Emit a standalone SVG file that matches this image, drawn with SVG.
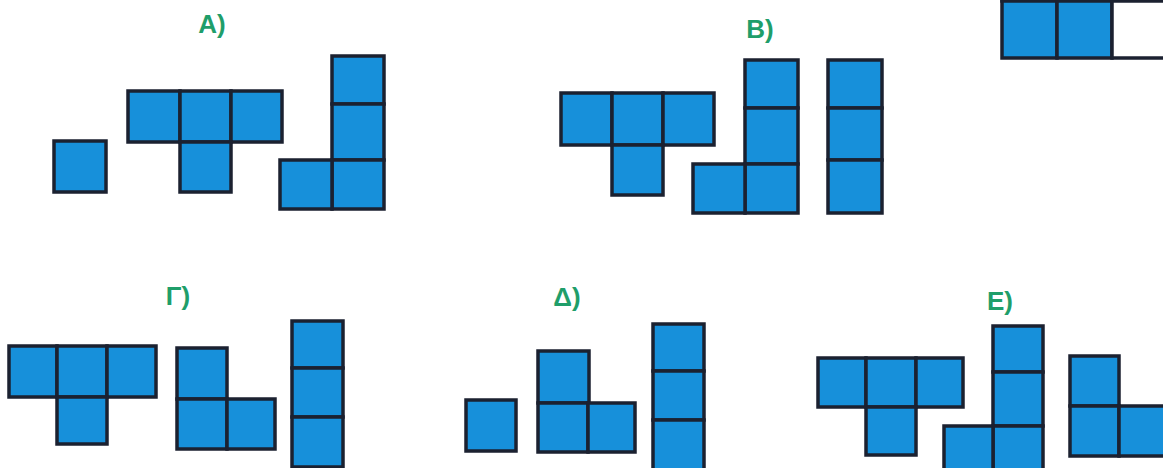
<svg xmlns="http://www.w3.org/2000/svg" width="1163" height="468" viewBox="0 0 1163 468">
<style>
.c{fill:#1790da;stroke:#1b2130;stroke-width:3.5}
.w{fill:#ffffff;stroke:#1b2130;stroke-width:3.5}
.t{font-family:"Liberation Sans",Arial,sans-serif;font-weight:bold;font-size:26px;fill:#1f9e6a;text-anchor:middle}
</style>
<rect width="1163" height="468" fill="#ffffff"/>
<g id="labels">
<text class="t" x="212" y="33">A)</text>
<text class="t" x="760" y="38">B)</text>
<text class="t" x="178" y="305">Γ)</text>
<text class="t" x="567" y="306">Δ)</text>
<text class="t" x="1000" y="310">E)</text>
</g>
<g id="A-single"><rect class="c" x="54" y="141" width="52" height="51"/></g>
<g id="A-T">
<rect class="c" x="128" y="91" width="52" height="51"/>
<rect class="c" x="180" y="91" width="51" height="51"/>
<rect class="c" x="231" y="91" width="51" height="51"/>
<rect class="c" x="180" y="142" width="51" height="50"/>
</g>
<g id="A-L">
<rect class="c" x="332" y="56" width="52" height="48"/>
<rect class="c" x="332" y="104" width="52" height="56"/>
<rect class="c" x="332" y="160" width="52" height="49"/>
<rect class="c" x="280" y="160" width="52" height="49"/>
</g>
<g id="B-T">
<rect class="c" x="561" y="93" width="51" height="52"/>
<rect class="c" x="612" y="93" width="51" height="52"/>
<rect class="c" x="663" y="93" width="51" height="52"/>
<rect class="c" x="612" y="145" width="51" height="50"/>
</g>
<g id="B-L">
<rect class="c" x="745" y="60" width="53" height="48"/>
<rect class="c" x="745" y="108" width="53" height="56"/>
<rect class="c" x="745" y="164" width="53" height="49"/>
<rect class="c" x="693" y="164" width="52" height="49"/>
</g>
<g id="B-I">
<rect class="c" x="828" y="60" width="54" height="48"/>
<rect class="c" x="828" y="108" width="54" height="52"/>
<rect class="c" x="828" y="160" width="54" height="53"/>
</g>
<g id="topright">
<rect class="c" x="1002" y="-55" width="55" height="56"/>
<rect class="w" x="1057" y="-55" width="55" height="56"/>
<rect class="w" x="1112" y="-55" width="55" height="56"/>
<rect class="c" x="1002" y="1" width="55" height="57"/>
<rect class="c" x="1057" y="1" width="55" height="57"/>
<rect class="w" x="1112" y="1" width="55" height="57"/>
</g>
<g id="G-T">
<rect class="c" x="9" y="346" width="48" height="51"/>
<rect class="c" x="57" y="346" width="50" height="51"/>
<rect class="c" x="107" y="346" width="49" height="51"/>
<rect class="c" x="57" y="397" width="50" height="47"/>
</g>
<g id="G-L">
<rect class="c" x="177" y="348" width="50" height="51"/>
<rect class="c" x="177" y="399" width="50" height="50"/>
<rect class="c" x="227" y="399" width="48" height="50"/>
</g>
<g id="G-I">
<rect class="c" x="292" y="321" width="51" height="47"/>
<rect class="c" x="292" y="368" width="51" height="49"/>
<rect class="c" x="292" y="417" width="51" height="50"/>
</g>
<g id="D-single"><rect class="c" x="466" y="400" width="50" height="51"/></g>
<g id="D-L">
<rect class="c" x="538" y="351" width="51" height="52"/>
<rect class="c" x="538" y="403" width="50" height="49"/>
<rect class="c" x="588" y="403" width="47" height="49"/>
</g>
<g id="D-I">
<rect class="c" x="653" y="324" width="51" height="47"/>
<rect class="c" x="653" y="371" width="51" height="49"/>
<rect class="c" x="653" y="420" width="51" height="52"/>
</g>
<g id="E-T">
<rect class="c" x="818" y="358" width="48" height="49"/>
<rect class="c" x="866" y="358" width="50" height="49"/>
<rect class="c" x="916" y="358" width="47" height="49"/>
<rect class="c" x="866" y="407" width="50" height="48"/>
</g>
<g id="E-L">
<rect class="c" x="993" y="326" width="50" height="46"/>
<rect class="c" x="993" y="372" width="50" height="54"/>
<rect class="c" x="993" y="426" width="50" height="46"/>
<rect class="c" x="944" y="426" width="49" height="46"/>
</g>
<g id="E-L2">
<rect class="c" x="1070" y="356" width="49" height="50"/>
<rect class="c" x="1070" y="406" width="49" height="50"/>
<rect class="c" x="1119" y="406" width="50" height="50"/>
</g>
</svg>
